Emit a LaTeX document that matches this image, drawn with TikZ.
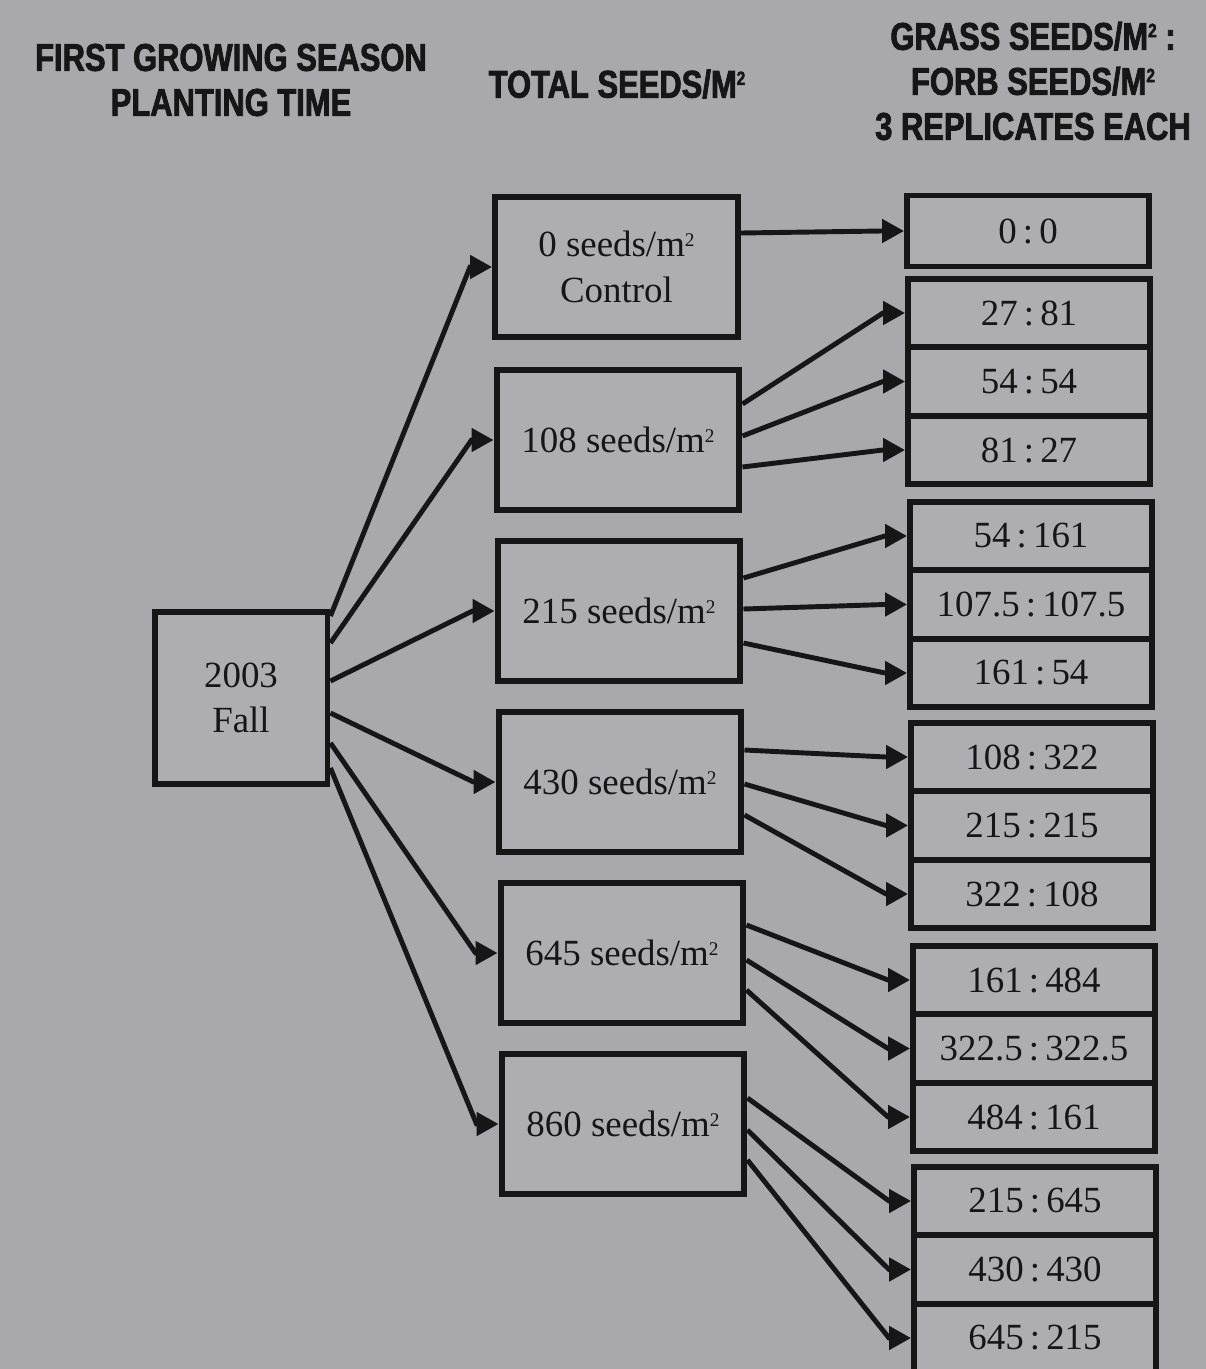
\documentclass[tikz,border=0pt]{standalone}
\usepackage{fontspec}
\setmainfont{Liberation Serif}
\newfontfamily\headfont[FakeStretch=0.8,FakeBold=2]{Liberation Sans}
\usetikzlibrary{arrows.meta,calc}
\definecolor{BG}{HTML}{A9A8AC}
\definecolor{BOX}{HTML}{AEADB1}
\definecolor{INK}{HTML}{161616}
\newcommand{\sqm}{\raisebox{0.62ex}{\fontsize{11}{11}\selectfont 2}}
\newcommand{\rat}[2]{#1\,:\,#2}

\begin{document}
\begin{tikzpicture}[x=0.02cm,y=-0.02cm]
\tikzset{box/.style={draw=INK,line width=3.4pt,fill=BOX,inner sep=0pt,align=center,text=INK,font=\fontsize{21}{26}\selectfont},
 mid/.style={box,minimum width=4.86cm,minimum height=2.8cm},
 rep/.style={box,minimum width=4.84cm,minimum height=1.37cm},
 arr/.style={-{Triangle[length=4.4mm,width=4.6mm]},line width=2.8pt,INK},
 hdr/.style={font=\headfont\bfseries\fontsize{22}{25.6}\selectfont,align=center,text=INK}}
\fill[BG] (0,0) rectangle (1206,1369);
\useasboundingbox (0,0) rectangle (1206,1369);
% column heads
\node[hdr] (hfall) at (231,80) {FIRST GROWING SEASON\\PLANTING TIME};
\node[hdr] (htotal) at (617,84) {TOTAL SEEDS/M\sqm};
\node[hdr] (hratio) at (1033,81) {GRASS SEEDS/M\sqm\ :\\FORB SEEDS/M\sqm\\3 REPLICATES EACH};
% boxes
\node[box,minimum width=3.46cm,minimum height=3.44cm] (fall) at (241,698) {2003\\Fall};
\node[mid] (m1) at (616.5,267) {0 seeds/m\sqm\\Control};
\node[mid] (m2) at (618,440) {108 seeds/m\sqm};
\node[mid] (m3) at (619,611) {215 seeds/m\sqm};
\node[mid] (m4) at (620,782) {430 seeds/m\sqm};
\node[mid] (m5) at (622,953) {645 seeds/m\sqm};
\node[mid] (m6) at (623,1124) {860 seeds/m\sqm};
\node[rep,minimum height=1.42cm] (r0) at (1028,231) {\rat{0}{0}};
\foreach \g/\x/\y/\ta/\tb/\tc in {1/1029/313/{\rat{27}{81}}/{\rat{54}{54}}/{\rat{81}{27}},
 2/1031/536/{\rat{54}{161}}/{\rat{107.5}{107.5}}/{\rat{161}{54}},
 3/1032/757/{\rat{108}{322}}/{\rat{215}{215}}/{\rat{322}{108}},
 4/1034/980/{\rat{161}{484}}/{\rat{322.5}{322.5}}/{\rat{484}{161}},
 5/1035/1201/{\rat{215}{645}}/{\rat{430}{430}}/{\rat{645}{215}}}{
 \node[rep] (r\g1) at (\x,\y) {\ta};
 \node[rep] (r\g2) at (\x,\y+68.5) {\tb};
 \node[rep] (r\g3) at (\x,\y+137) {\tc};
}
% arrows
\foreach \i/\dy in {1/-82,2/-55,3/-17,4/15,5/45,6/70}
 \draw[arr] ($(fall.east)+(0,\dy)$) -- ($(m\i.west)+(-22,0)$) -- (m\i.west);
\foreach \m/\r/\dy in {1/r0/-34,2/r11/-36,2/r12/-4,2/r13/27,3/r21/-33,3/r22/-2,3/r23/32,
 4/r31/-32,4/r32/2,4/r33/33,5/r41/-28,5/r42/7,5/r43/37,6/r51/-26,6/r52/6,6/r53/36}
 \draw[arr] ($(m\m.east)+(0,\dy)$) -- ($(\r.west)+(-22,0)$) -- (\r.west);
\end{tikzpicture}
\end{document}
